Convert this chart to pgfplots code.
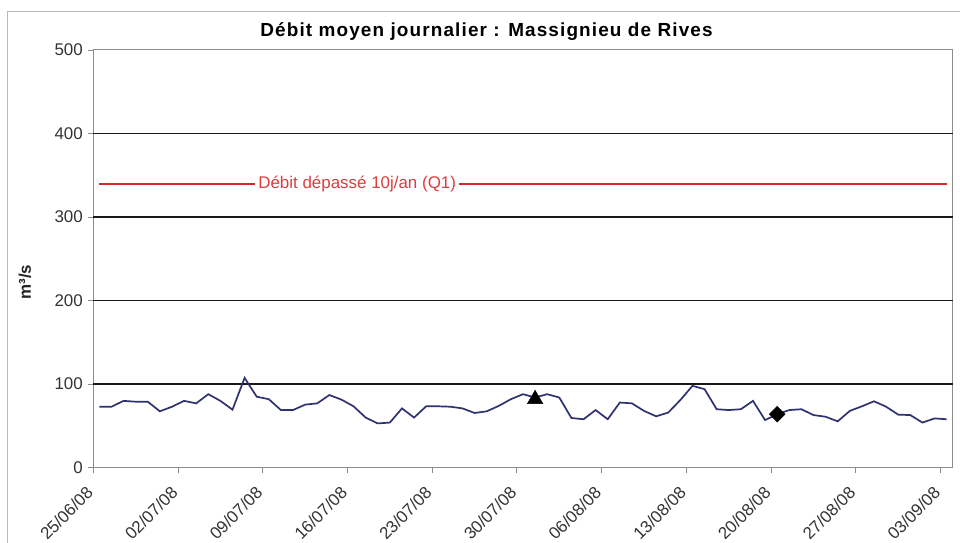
\documentclass[border=0pt]{standalone}
\usepackage{pgfplots}
\usepackage{fontspec}
\setmainfont{Liberation Sans}
\pgfplotsset{compat=1.18}

\definecolor{flow}{HTML}{2E3270}
\definecolor{qred}{HTML}{D42A2A}
\definecolor{framegray}{HTML}{8C8C8C}

\begin{document}
\begin{tikzpicture}
\useasboundingbox (0,0) rectangle (960bp,543bp);
% outer chart frame
\draw[gray!55, line width=1bp] (7bp,0) -- (7bp,531bp) -- (960bp,531bp);

\begin{axis}[
    at={(93.3bp,75.3bp)}, anchor=south west,
    scale only axis, width=859.4bp, height=417.7bp,
    xmin=0, xmax=71, ymin=0, ymax=500,
    xtick={0,7,...,70},
    xticklabels={25/06/08,02/07/08,09/07/08,16/07/08,23/07/08,30/07/08,
                 06/08/08,13/08/08,20/08/08,27/08/08,03/09/08},
    ytick={0,100,...,500},
    extra y ticks={100,200,300,400},
    extra y tick labels={},
    extra y tick style={ymajorgrids=true, major tick length=0pt},
    major grid style={black!90, line width=1.5bp},
    xtick pos=lower, ytick pos=left,
    tick align=outside, major tick length=5bp,
    tick style={framegray, line width=0.9bp},
    axis line style={framegray, line width=1bp},
    /pgf/number format/assume math mode=true,
    tick label style={font=\fontsize{17}{20}\selectfont, text=black!80},
    xticklabel style={xshift=-8bp, yshift=-11bp, rotate=45, anchor=north east, inner sep=1bp},
    yticklabel style={xshift=-2bp},
    clip=false,
]
% daily mean flow, 25/06/08 to 03/09/08
\addplot[flow, line width=1.7bp] coordinates {
 (0.5,73) (1.5,73) (2.5,80) (3.5,79) (4.5,79) (5.5,67.5) (6.5,73) (7.5,80)
 (8.5,77) (9.5,88) (10.5,80) (11.5,69.5) (12.5,107.5) (13.5,85) (14.5,82)
 (15.5,69) (16.5,69) (17.5,75.5) (18.5,77) (19.5,87) (20.5,81.5) (21.5,73.5)
 (22.5,60) (23.5,53) (24.5,54) (25.5,71) (26.5,60) (27.5,73.5) (28.5,73.5)
 (29.5,73) (30.5,71) (31.5,65.5) (32.5,67.5) (33.5,74) (34.5,82) (35.5,88)
 (36.5,84) (37.5,88) (38.5,84) (39.5,59.5) (40.5,58) (41.5,69) (42.5,58)
 (43.5,78) (44.5,77) (45.5,68) (46.5,61.5) (47.5,66) (48.5,81) (49.5,98)
 (50.5,94) (51.5,70) (52.5,69) (53.5,70) (54.5,80) (55.5,57) (56.5,64)
 (57.5,69) (58.5,70) (59.5,63) (60.5,61) (61.5,55.5) (62.5,68) (63.5,73.5)
 (64.5,79.5) (65.5,73) (66.5,63.5) (67.5,63) (68.5,54) (69.5,59) (70.5,58)
};
% Q1 threshold
\addplot[qred, line width=2bp] coordinates {(0.5,340) (70.5,340)};
\node[fill=white, text=qred!90!white, inner sep=3bp,
      font=\fontsize{17}{20}\selectfont] at (axis cs:21.8,340)
      {Débit dépassé 10j/an (Q1)};
% markers
\addplot[only marks, mark=triangle*, mark size=9bp, black] coordinates {(36.5,82)};
\addplot[only marks, mark=square*, mark size=5.6bp, mark options={rotate=45}, black]
  coordinates {(56.5,64)};
\end{axis}

\node[font=\fontsize{19}{22}\selectfont\bfseries\addfontfeature{LetterSpace=6}]
  at (486.5bp,511bp) {Débit moyen journalier : Massignieu de Rives};
\node[rotate=90, font=\fontsize{17}{20}\selectfont\bfseries, text=black!85]
  at (25bp,261bp) {m³/s};
\end{tikzpicture}
\end{document}
